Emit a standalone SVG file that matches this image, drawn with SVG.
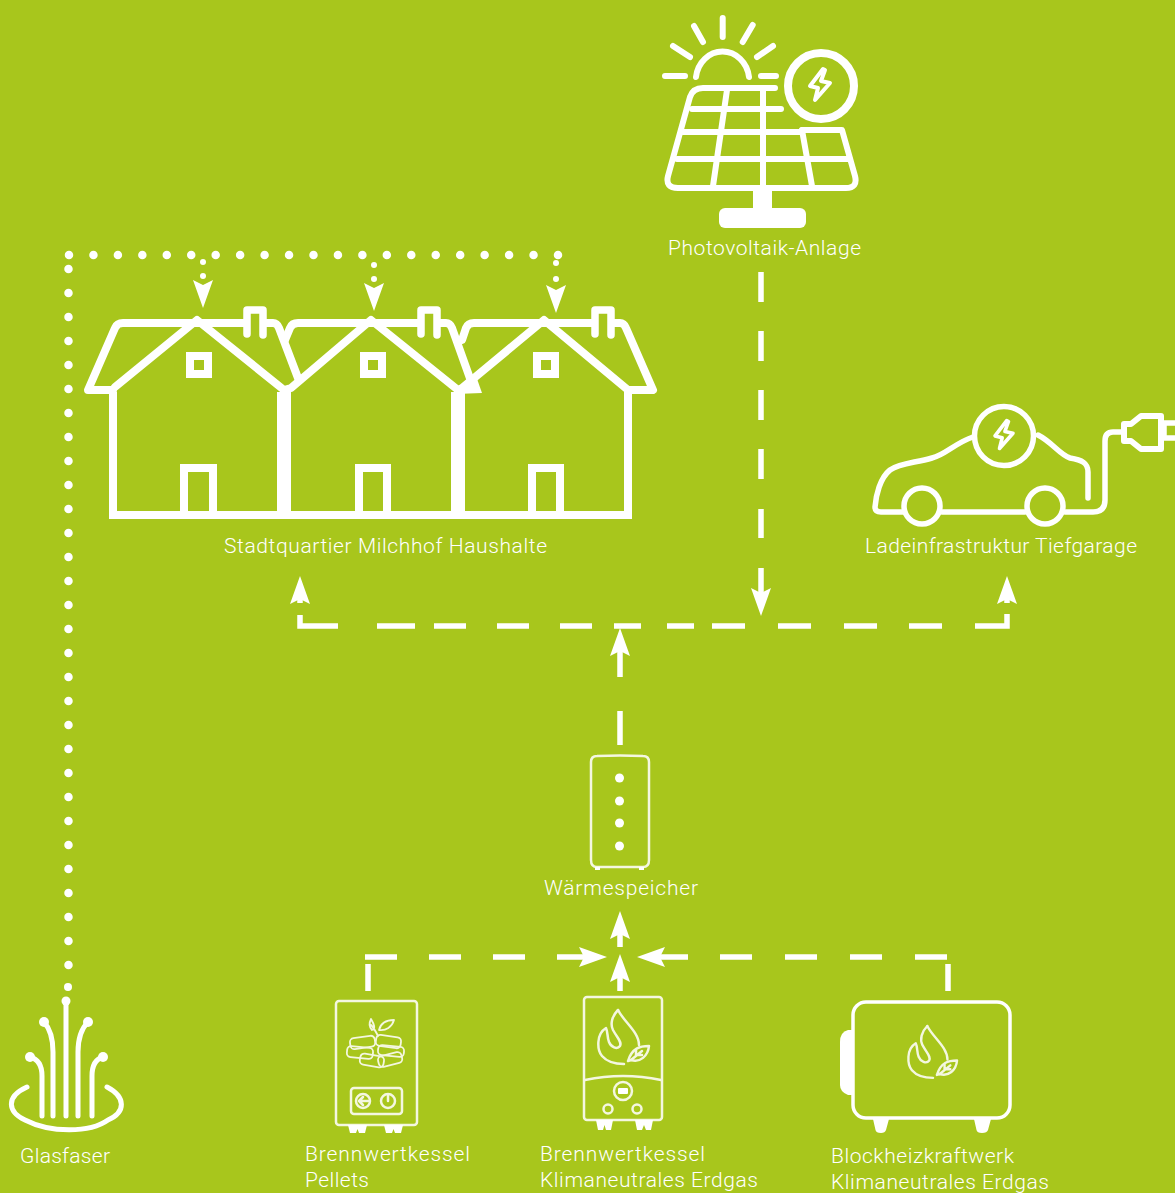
<svg xmlns="http://www.w3.org/2000/svg" width="1175" height="1193" viewBox="0 0 1175 1193">
<style>
text{font-family:Roboto,"Liberation Sans",sans-serif;font-weight:300;font-size:21px;fill:#fff}
.l{fill:none;stroke:#fff;stroke-linecap:round;stroke-linejoin:round}
.m{fill:none;stroke:#fff;stroke-linejoin:miter}
.f{fill:#fff}
.fine{fill:none;stroke:#f4f7e0;stroke-width:2.5;stroke-linecap:round;stroke-linejoin:round}
.thin{stroke-width:1.8}
.d{fill:none;stroke:#fff;stroke-width:5.5}
.dot{fill:none;stroke:#fff;stroke-width:8.5;stroke-linecap:round}
</style>
<defs>
<path id="bolt" d="M3 -16 L-10 1 L-2 3 L-5 15 L10 -2 L1 -4 L5 -15 Z" class="l" stroke-width="4"/>
<polygon id="ah" class="f" points="0,0 -10,28 0,23 10,28"/>
<g id="flame" class="fine">
<path d="M618 1010 C612 1016 610 1024 613 1030 C618 1039 622 1042 620 1046 C617 1050 611 1047 609 1042 C607 1037 608 1032 606 1028 C596 1034 597 1050 602 1056 C608 1063 616 1064 624 1064"/>
<path d="M618 1010 C624 1022 639 1032 639 1045"/>
<path d="M628 1061 C632 1048 640 1046 649 1046 C648 1056 640 1063 631 1060 Z"/>
<path d="M631 1060 L642 1051 M636 1055 V1050 M636 1055 H642"/>
</g>
</defs>
<rect width="1175" height="1193" fill="#a8c61c"/>

<g id="connectors">
<path class="dot" d="M69 255 H560" stroke-dasharray="0 24.45"/>
<path class="dot" d="M68.5 269 V970" stroke-dasharray="0 24"/>
<circle class="f" cx="203" cy="262" r="3"/>
<circle class="f" cx="203" cy="276" r="3"/>
<circle class="f" cx="374" cy="265" r="3"/>
<circle class="f" cx="374" cy="279" r="3"/>
<circle class="f" cx="556" cy="263" r="3"/>
<circle class="f" cx="556" cy="279" r="3"/>
<use href="#ah" transform="translate(203 308) rotate(180)"/>
<use href="#ah" transform="translate(374 311) rotate(180)"/>
<use href="#ah" transform="translate(556 313) rotate(180)"/>
<path class="d" d="M761 272 V302 M761 331 V361 M761 390 V420 M761 449 V479 M761 509 V538 M761 568 V596"/>
<use href="#ah" transform="translate(761 616) rotate(180)"/>
<path class="d" d="M300 615 V626 H338 M377 626 H415 M434 626 H466 M497 626 H529 M560 626 H592 M614 626 H641 M667 626 H694 M712 626 H745 M778 626 H811 M844 626 H877 M909 626 H942 M975 626 H1007 V614"/>
<path class="d" d="M300 595 V603 M1007 595 V603"/>
<use href="#ah" transform="translate(300 576)"/>
<use href="#ah" transform="translate(1007 576)"/>
<path class="d" d="M620 645 V677 M620 711 V745"/>
<use href="#ah" transform="translate(620 628)"/>
<path class="d" d="M368 991 V964 M365 957 H397 M429 957 H461 M493 957 H525 M557 957 H590"/>
<path class="d" d="M948 991 V964 M947 957 H915 M882 957 H850 M817 957 H785 M752 957 H720 M688 957 H655"/>
<path class="d" d="M620 925 V947 M620 970 V991"/>
<use href="#ah" transform="translate(620 911)"/>
<use href="#ah" transform="translate(620 954)"/>
<use href="#ah" transform="translate(607 957) rotate(90)"/>
<use href="#ah" transform="translate(637 957) rotate(-90)"/>
</g>

<g id="photovoltaik">
<path class="l" stroke-width="6" d="M722.7 18 V37 M694 26 L703 42 M752.7 25 L742.7 42 M673 46 L690 57 M773 46 L757 57 M665 76 H685 M761 76 H776"/>
<path class="l" stroke-width="6" d="M696 77 A26.7 29 0 0 1 749 77"/>
<circle class="l" stroke-width="8" cx="821" cy="86" r="33"/>
<use href="#bolt" x="820" y="85"/>
<path class="l" stroke-width="6" d="M775 88 H703 Q693 88 690 97 L668 176 Q665 188 678 188 H846 Q858 188 855 176 L842 130 H802"/>
<path class="l" stroke-width="6" d="M692 109 H781 M683 132 H802 M677 159 H848 M727 90 L713 186 M763 90 V186 M802 130 L812 186"/>
<rect class="f" x="753" y="188" width="19" height="24"/>
<rect class="f" x="719" y="208" width="87" height="20" rx="6"/>
<text x="668" y="255" textLength="193">Photovoltaik-Anlage</text>
</g>

<g id="haushalte">
<path class="m" stroke-width="8" d="M113 392 V515 M628 392 V515 M109 515 H632"/>
<path class="m" stroke-width="14" d="M284 392 V515 M458 392 V515"/>
<path class="l" stroke-width="8" d="M115 387 L197 320 L284 390 L291 388 L371 320 L458 390 L462 388 L544 320 L628 390"/>
<path class="l" stroke-width="8" d="M113 390 H88 L115 328 Q117 323 123 323 H197 M197 323 H245 M265 323 H273 Q277 323 279 328 L298 378"/>
<path class="l" stroke-width="8" d="M285 340 L290 328 Q292 323 298 323 H371 H419 M439 323 H446 Q450 323 452 328 L472 384"/>
<path class="l" stroke-width="8" d="M462 340 L466 328 Q468 323 474 323 H544 H593 M613 323 H620 Q624 323 626 328 L653 390 H628"/>
<path class="f" d="M456 394 L476 376 L482 393 Z"/>
<path class="l" stroke-width="7.5" d="M247 334 V310 H263 V335 M421 334 V310 H437 V335 M595 334 V310 H611 V335"/>
<rect class="m" stroke-width="8" x="190" y="356" width="18" height="18"/>
<rect class="m" stroke-width="8" x="364" y="356" width="18" height="18"/>
<rect class="m" stroke-width="8" x="537" y="356" width="18" height="18"/>
<path class="m" stroke-width="8" d="M184 515 V468 H213 V515 M359 515 V468 H387 V515 M532 515 V468 H560 V515"/>
<text x="224" y="553" textLength="323">Stadtquartier Milchhof Haushalte</text>
</g>

<g id="ladeinfrastruktur">
<path class="l" stroke-width="5.5" d="M973 437 C955 443 945 455 932 458 C915 463 900 463 890 470 C880 478 876 495 875 507 Q875 512 881 512 H903 M942 512 H1025 M1065 512 H1093 Q1105 512 1105 500 V441 Q1105 432 1113 432 H1122"/>
<path class="l" stroke-width="5.5" d="M1038 435 C1052 442 1060 455 1070 458 C1082 460 1088 463 1088 472 V498"/>
<circle class="l" stroke-width="5.5" cx="922" cy="506" r="18"/>
<circle class="l" stroke-width="5.5" cx="1045" cy="506" r="18"/>
<circle class="l" stroke-width="5.5" cx="1004" cy="436" r="29.5"/>
<use href="#bolt" x="1004" y="435" transform="translate(100.4 43.5) scale(.9)"/>
<path class="l" stroke-width="6" d="M1124 424 V441 H1131 L1141 449 H1161 V416 H1141 L1131 424 Z"/>
<path class="l" stroke-width="5.5" d="M1175 423 H1164 V438 H1175"/>
<text x="865" y="553" textLength="272">Ladeinfrastruktur Tiefgarage</text>
</g>

<g id="waermespeicher">
<path class="fine" d="M591 762 Q591 756 597 756 Q620 755 643 756 Q649 756 649 762 V860 Q649 867 643 867 H597 Q591 867 591 860 Z"/>
<rect class="f" x="595" y="867" width="5" height="3"/>
<rect class="f" x="639" y="867" width="5" height="3"/>
<circle class="f" cx="619.5" cy="778" r="4.5"/>
<circle class="f" cx="619.5" cy="801" r="4.5"/>
<circle class="f" cx="619.5" cy="823" r="4.5"/>
<circle class="f" cx="619.5" cy="846" r="4.5"/>
<text x="544" y="895" textLength="154">Wärmespeicher</text>
</g>

<g id="glasfaser">
<circle class="f" cx="68" cy="987" r="4"/>
<circle class="f" cx="66" cy="1001" r="4.5"/>
<circle class="f" cx="44" cy="1022" r="5"/>
<circle class="f" cx="88" cy="1022" r="5"/>
<circle class="f" cx="30" cy="1057" r="5"/>
<circle class="f" cx="103" cy="1057" r="5"/>
<path class="l" stroke-width="5" d="M66 1001 V1116 M44 1022 Q53 1032 53 1052 V1116 M88 1022 Q78 1032 78 1052 V1116 M30 1057 Q42 1060 42 1076 V1116 M103 1057 Q92 1060 92 1076 V1116"/>
<path class="l" stroke-width="5" d="M27 1087 C5 1097 8 1112 25 1120 C50 1133 90 1133 108 1120 C126 1112 126 1097 107 1087"/>
<text x="20" y="1163" textLength="90">Glasfaser</text>
</g>

<g id="kessel-pellets">
<rect class="fine" x="336" y="1001" width="81" height="124" rx="3"/>
<path class="f" d="M348 1125 H367 L365 1133 H359 L357.500 1129 L356 1133 H350 Z M384 1125 H403 L401 1133 H395 L393.500 1129 L392 1133 H386 Z"/>
<rect class="fine" x="351" y="1088" width="51" height="26" rx="3"/>
<circle class="fine" cx="363" cy="1101" r="7"/>
<circle class="fine" cx="388" cy="1101" r="7"/>
<path class="fine" d="M363 1097 L359 1101 L363 1105 M359 1101 H368 M388 1096 V1101"/>
<g>
<rect class="fine thin" x="350" y="1037" width="25" height="11" rx="4" transform="rotate(-8 362 1042)"/>
<rect class="fine thin" x="347" y="1047" width="26" height="11" rx="4" transform="rotate(6 360 1052)"/>
<rect class="fine thin" x="360" y="1055" width="24" height="11" rx="4" transform="rotate(10 372 1060)"/>
<rect class="fine thin" x="376" y="1036" width="25" height="11" rx="4" transform="rotate(8 388 1041)"/>
<rect class="fine thin" x="378" y="1046" width="26" height="10" rx="4" transform="rotate(6 391 1051)"/>
<rect class="fine thin" x="378" y="1054" width="24" height="11" rx="4" transform="rotate(-14 390 1059)"/>
<path class="fine thin" d="M378 1036 C376 1032 374 1028 371 1025 M371 1019 C374 1024 376 1029 372 1030 C369 1027 369 1023 371 1019 M379 1030 C381 1022 388 1020 394 1020 C392 1027 386 1031 379 1030 Z"/>
</g>
<text x="305" y="1161" textLength="165">Brennwertkessel</text>
<text x="305" y="1187" textLength="64">Pellets</text>
</g>

<g id="kessel-erdgas">
<rect class="fine" x="584" y="997" width="78" height="123" rx="3"/>
<path class="fine" d="M585 1080 Q623 1072 661 1080"/>
<circle class="fine" cx="623" cy="1091" r="9"/>
<rect class="f" x="618" y="1088" width="10" height="6" rx="1"/>
<circle class="fine" cx="608" cy="1109" r="4.500"/>
<circle class="fine" cx="637" cy="1109" r="4.500"/>
<path class="f" d="M596 1120 H613 L611 1130 H606 L604.500 1125 L603 1130 H598 Z M635 1120 H653 L651 1130 H646 L644 1125 L642 1130 H637 Z"/>
<use href="#flame"/>
<text x="540" y="1161" textLength="165">Brennwertkessel</text>
<text x="540" y="1187" textLength="218">Klimaneutrales Erdgas</text>
</g>

<g id="blockheizkraftwerk">
<rect class="l" stroke-width="3.500" x="853" y="1002" width="157" height="116" rx="13"/>
<path class="f" d="M853 1030 H848 Q840 1032 840 1042 V1085 Q840 1092 848 1095 H853 Z"/>
<path class="f" d="M873 1119 H889 L886 1130 Q885 1133 881 1133 Q876 1133 875.500 1130 Z M974 1119 H991 L988 1130 Q987 1133 982 1133 Q977 1133 976.500 1130 Z"/>
<use href="#flame" transform="translate(334 56.4) scale(.96)"/>
<text x="831" y="1163" textLength="183">Blockheizkraftwerk</text>
<text x="831" y="1189" textLength="218">Klimaneutrales Erdgas</text>
</g>
</svg>
